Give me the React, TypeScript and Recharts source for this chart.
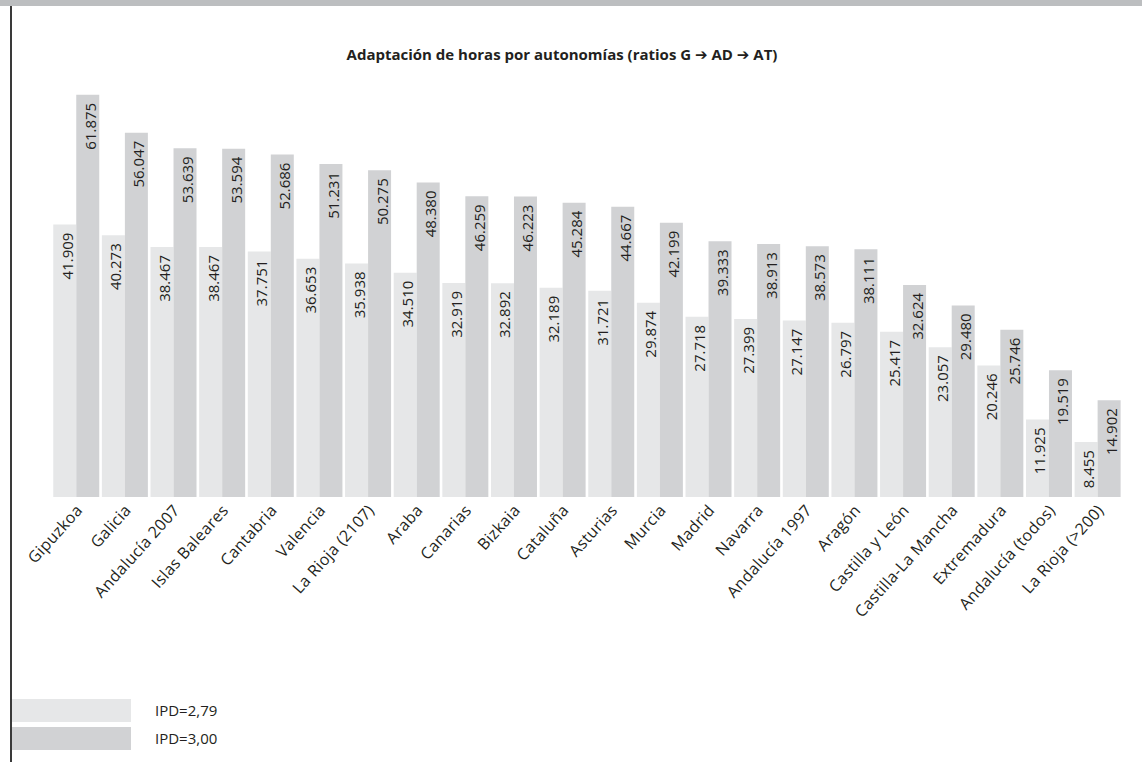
import React from "react";
import { BarChart, Bar, XAxis, YAxis, LabelList } from "recharts";

const regions = [
  "Gipuzkoa", "Galicia", "Andalucía 2007", "Islas Baleares", "Cantabria", "Valencia",
  "La Rioja (2107)", "Araba", "Canarias", "Bizkaia", "Cataluña", "Asturias", "Murcia",
  "Madrid", "Navarra", "Andalucía 1997", "Aragón", "Castilla y León", "Castilla-La Mancha",
  "Extremadura", "Andalucía (todos)", "La Rioja (>200)",
];
const ipd279 = [
  41.909, 40.273, 38.467, 38.467, 37.751, 36.653, 35.938, 34.51, 32.919, 32.892, 32.189,
  31.721, 29.874, 27.718, 27.399, 27.147, 26.797, 25.417, 23.057, 20.246, 11.925, 8.455,
];
const ipd300 = [
  61.875, 56.047, 53.639, 53.594, 52.686, 51.231, 50.275, 48.38, 46.259, 46.223, 45.284,
  44.667, 42.199, 39.333, 38.913, 38.573, 38.111, 32.624, 29.48, 25.746, 19.519, 14.902,
];
const seriesNames = ["IPD=2,79", "IPD=3,00"];

const data = regions.map((name, i) => ({ name, a: ipd279[i], b: ipd300[i] }));

const FONT = "'Open Sans', sans-serif";
const TXT = "#231f20";
const LIGHT = "#e6e7e8";
const DARK = "#d1d2d4";

// number inside the bar, reading bottom-to-top
const ValueLabel = (props: any) => {
  const { x, y, width, value } = props;
  const cx = x + width / 2 + 2;
  const cy = y + 8;
  return (
    <text x={cx} y={cy} transform={`rotate(-90 ${cx} ${cy})`} textAnchor="end"
      dominantBaseline="central" fontSize={15} fill={TXT} fontFamily={FONT}>
      {value.toFixed(3)}
    </text>
  );
};

const AxisTick = (props: any) => {
  const { x, y, payload } = props;
  return (
    <g transform={`translate(${x + 7},${y + 6})`}>
      <text x={0} y={0} transform="rotate(-48)" textAnchor="end" fontSize={16}
        letterSpacing={0.3} fill={TXT} fontFamily={FONT}>{payload.value}</text>
    </g>
  );
};

const Arrow = () => <span style={{ fontFamily: "'DejaVu Sans'", fontSize: 15 }}>➔</span>;

export default function App() {
  return (
    <div style={{ position: "absolute", left: 0, top: 0, width: 1142, height: 762, background: "#fff", overflow: "hidden" }}>
      <div style={{ position: "absolute", left: 0, top: 0, width: 1142, height: 6, background: "#bcbec0" }} />
      <div style={{ position: "absolute", left: 10, top: 6, width: 1.5, height: 756, background: "#3a3a3a" }} />
      <div style={{ position: "absolute", left: 0, top: 44, width: 1124, textAlign: "center", fontFamily: FONT, fontWeight: 700, fontSize: 15, color: TXT }}>
        Adaptación de horas por autonomías (ratios G <Arrow /> AD <Arrow /> AT)
      </div>
      <BarChart width={1142} height={762} data={data} barGap={0} barCategoryGap={1.25}
        margin={{ top: 94, right: 20, bottom: 235, left: 52 }}>
        <XAxis dataKey="name" interval={0} axisLine={false} tickLine={false} tick={<AxisTick />} />
        <YAxis hide domain={[0, 62]} />
        <Bar dataKey="a" name={seriesNames[0]} fill={LIGHT} isAnimationActive={false}>
          <LabelList dataKey="a" content={<ValueLabel />} />
        </Bar>
        <Bar dataKey="b" name={seriesNames[1]} fill={DARK} isAnimationActive={false}>
          <LabelList dataKey="b" content={<ValueLabel />} />
        </Bar>
      </BarChart>
      {/* legend */}
      <div style={{ position: "absolute", left: 12, top: 696 }}>
        {[LIGHT, DARK].map((c, i) => (
          <div key={i} style={{ display: "flex", alignItems: "center", height: 28 }}>
            <div style={{ width: 119, height: 23, background: c }} />
            <span style={{ marginLeft: 24, fontSize: 15, color: TXT, fontFamily: FONT }}>{seriesNames[i]}</span>
          </div>
        ))}
      </div>
    </div>
  );
}
